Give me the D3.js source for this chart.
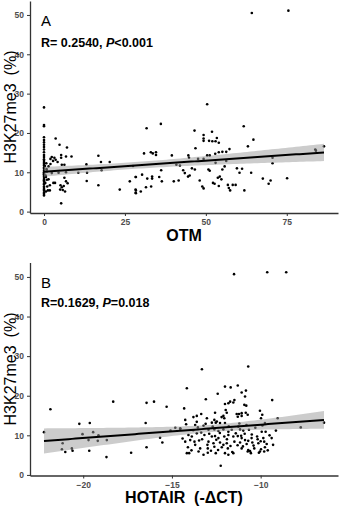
<!DOCTYPE html>
<html>
<head>
<meta charset="utf-8">
<script src="https://cdn.jsdelivr.net/npm/d3@7"></script>
<style>
  body { margin: 0; background: #fff; }
  svg { display: block; font-family: Arial, 'Liberation Sans', sans-serif; }
</style>
</head>
<body>
<div id="chart"></div>
<script>
const WIDTH = 339
const HEIGHT = 508

// OTM score vs H3K27me3 (%) -- [otm, h3k27me3]
const otmPoints = [
  [0, 26.5], [0, 22.0], [0, 21.7], [0, 18.9], [0, 18.2], [0, 17.6], [0, 17.0], [0, 16.4], [0, 15.8], [0, 15.1],
  [0, 14.4], [0, 13.9], [0, 13.3], [0, 12.9], [0, 12.4], [0, 12.1], [0, 11.7], [0, 11.2], [0, 10.9], [0, 10.4],
  [0, 10.0], [0, 9.7], [0, 9.5], [0, 9.1], [0, 8.8], [0, 8.3], [0, 8.0], [0, 7.6], [0, 7.1], [0, 6.9],
  [0, 6.4], [0, 6.0], [0, 5.6], [0, 5.3], [0, 4.8], [0, 4.5], [0, 4.1],
  [0.5, 9.2], [0.8, 10.8], [0.4, 7.3], [0.7, 12.3], [1.0, 6.4], [0.6, 5.1], [0.3, 11.6], [0.9, 8.1],
  [3.6, 18.6], [4.8, 17.0], [7.1, 16.3], [2.4, 13.9], [3.2, 13.7], [2.0, 13.4], [3.6, 13.2], [2.8, 12.9],
  [5.3, 14.4], [5.3, 13.7], [6.8, 14.0], [8.5, 14.0], [4.2, 12.6], [5.5, 11.9], [6.3, 11.9], [1.4, 11.5],
  [2.0, 12.1], [16.8, 14.2], [13.1, 12.0], [17.6, 12.6], [20.3, 12.6], [0.9, 10.2], [2.4, 9.8], [4.5, 9.9],
  [6.8, 10.0], [10.6, 9.9], [13.3, 9.9], [17.8, 10.5], [0.6, 8.8], [1.4, 8.2], [2.9, 7.3], [3.4, 7.3],
  [6.3, 8.6], [6.8, 7.7], [7.3, 7.2], [1.8, 6.7], [5.1, 6.7], [5.5, 6.2], [6.1, 6.5], [5.0, 5.6],
  [5.8, 5.5], [6.5, 5.1], [1.2, 5.4], [1.8, 5.4], [13.2, 7.8], [16.8, 6.7], [5.3, 2.1], [23.4, 5.6],
  [26.5, 7.7], [28.3, 8.8], [28.3, 5.6], [28.3, 4.8], [27.5, 11.6],
  [50.4, 27.3], [31.7, 21.2], [36.1, 22.3], [46.5, 20.6], [51.9, 20.3], [61.7, 21.7], [49.3, 19.5], [49.3, 18.6],
  [49.3, 18.0], [51.0, 18.0], [52.0, 17.9], [53.0, 17.9], [53.4, 18.7], [54.0, 17.5], [64.7, 18.3], [63.0, 16.6],
  [46.8, 16.1], [30.9, 14.8], [33.0, 15.1], [33.6, 14.8], [34.6, 15.1], [34.6, 14.4], [39.5, 14.3], [44.6, 14.3],
  [44.8, 13.7], [50.4, 14.3], [51.2, 14.3], [52.9, 14.7], [54.0, 15.1], [55.1, 15.2], [56.3, 15.2], [57.3, 15.9],
  [47.6, 13.4], [49.3, 13.4], [83.8, 15.8], [86.5, 16.6], [84.0, 15.5], [70.6, 13.7], [70.6, 12.3], [40.9, 11.9],
  [42.0, 11.7], [53.0, 12.4], [56.3, 12.9], [55.8, 11.5], [36.2, 10.5], [43.0, 10.5], [43.5, 9.8], [45.7, 11.0],
  [46.6, 10.7], [50.8, 10.7], [51.2, 10.4], [55.1, 10.7], [59.6, 11.0], [61.2, 10.9], [60.4, 9.9], [64.0, 9.9],
  [28.4, 8.8], [30.3, 9.4], [31.9, 8.4], [33.4, 8.9], [33.4, 8.4], [35.6, 8.8], [36.4, 7.7], [40.1, 7.7],
  [41.6, 7.9], [44.5, 8.9], [45.0, 9.2], [48.1, 7.9], [53.7, 8.6], [54.8, 8.2], [54.3, 8.9], [67.6, 8.4],
  [70.0, 7.9], [69.4, 7.1], [75.1, 8.5], [28.4, 5.4], [28.4, 4.7], [29.9, 5.1], [31.5, 6.2], [33.1, 6.4],
  [48.9, 6.4], [49.3, 5.9], [52.2, 7.3], [52.7, 7.1], [54.0, 6.5], [56.8, 6.8], [57.1, 6.0], [57.5, 5.4],
  [58.3, 6.8], [59.2, 6.8], [61.9, 5.4], [64.2, 50.5], [75.5, 51.1]
]

// HOTAIR (-dCT) vs H3K27me3 (%) -- [hotair, h3k27me3]
const hotairPoints = [
  [-22.21, 10.8], [-21.85, 16.6], [-18.31, 18.5], [-16.43, 18.2], [-16.01, 18.5], [-15.30, 17.2], [-20.22, 12.9],
  [-19.63, 13.1], [-16.48, 13.1], [-20.04, 10.3], [-19.44, 10.8], [-19.14, 10.0], [-19.18, 8.6], [-18.67, 8.8],
  [-19.70, 8.8], [-21.16, 8.0], [-21.20, 6.5], [-20.64, 6.7], [-21.01, 5.8], [-20.60, 6.1], [-19.66, 6.1],
  [-18.69, 4.5], [-17.30, 5.6], [-16.43, 7.0], [-15.67, 9.4], [-15.54, 8.2], [-15.08, 11.2],
  [-14.16, 21.9], [-12.01, 22.3], [-11.69, 22.1], [-11.29, 22.6], [-11.07, 20.8], [-10.83, 21.3], [-12.42, 20.5],
  [-10.88, 19.8], [-13.09, 19.1], [-11.48, 18.9], [-11.72, 18.5], [-11.82, 18.1], [-12.01, 17.9], [-11.54, 18.3],
  [-9.35, 18.9], [-10.92, 17.7], [-10.81, 17.5], [-14.31, 16.8], [-12.57, 15.7], [-11.97, 16.4], [-11.91, 15.7],
  [-11.35, 15.4], [-11.22, 15.4], [-11.07, 15.6], [-10.84, 15.7], [-10.73, 15.2], [-11.29, 14.7], [-11.07, 14.9],
  [-10.04, 16.2], [-9.91, 15.2], [-12.10, 14.9], [-12.05, 14.3], [-13.79, 14.6], [-13.60, 14.9], [-13.35, 15.4],
  [-13.03, 14.3], [-14.25, 13.9], [-12.75, 13.2], [-12.53, 13.2], [-12.29, 13.1], [-12.01, 13.1], [-9.98, 14.3],
  [-9.76, 13.1], [-9.04, 14.3], [-6.43, 13.2], [-7.74, 12.0], [-14.53, 11.8], [-13.69, 12.6], [-13.54, 12.0],
  [-13.22, 12.4], [-12.94, 11.4], [-12.61, 11.5], [-12.38, 11.1], [-12.10, 11.5], [-11.82, 10.9], [-11.63, 11.4],
  [-11.26, 12.2], [-11.16, 11.5], [-10.98, 11.2], [-10.66, 11.4], [-9.94, 10.9], [-9.72, 10.9], [-9.14, 11.2],
  [-14.07, 10.1], [-13.88, 9.7], [-13.60, 10.5], [-13.35, 10.7], [-13.17, 10.1], [-12.75, 9.7], [-12.57, 9.8],
  [-12.38, 9.3], [-12.05, 9.7], [-11.82, 10.1], [-11.54, 9.7], [-11.29, 9.8], [-11.07, 9.3], [-10.88, 8.8],
  [-10.51, 9.3], [-10.17, 9.0], [-9.85, 9.3], [-14.25, 8.4], [-13.97, 8.8], [-13.73, 8.4], [-13.47, 8.7],
  [-12.94, 8.4], [-12.66, 8.0], [-12.29, 8.2], [-11.91, 8.0], [-11.48, 8.4], [-11.16, 8.2], [-10.79, 7.8],
  [-10.47, 8.2], [-10.13, 8.0], [-9.66, 7.8], [-9.38, 9.3], [-14.10, 7.0], [-13.69, 7.6], [-13.41, 6.7],
  [-12.98, 6.7], [-12.61, 7.1], [-12.19, 7.0], [-11.85, 6.7], [-11.07, 6.7], [-10.70, 6.3], [-10.36, 6.7],
  [-9.98, 6.5], [-9.76, 7.0], [-14.16, 5.5], [-14.03, 5.5], [-13.22, 5.1], [-12.98, 5.6], [-12.53, 5.5],
  [-12.01, 5.5], [-11.82, 5.1], [-11.54, 5.5], [-10.73, 5.9], [-10.55, 5.5], [-10.04, 5.9], [-9.80, 5.9],
  [-12.25, 2.3], [-14.81, 11.9], [-14.53, 11.6], [-12.61, 13.9], [-12.47, 13.5],
  [-14.4, 9.2], [-14.2, 12.8], [-13.9, 6.2], [-13.8, 11.3], [-13.6, 13.4], [-13.5, 5.9], [-13.3, 9.0],
  [-13.1, 12.9], [-13.0, 7.6], [-12.9, 10.4], [-12.8, 6.1], [-12.7, 12.2], [-12.5, 8.9], [-12.4, 6.3],
  [-12.3, 10.6], [-12.2, 14.6], [-12.1, 7.6], [-11.9, 9.0], [-11.8, 12.3], [-11.7, 7.3], [-11.6, 5.8],
  [-11.4, 10.5], [-11.3, 7.5], [-11.2, 13.0], [-11.1, 9.9], [-11.0, 7.2], [-10.9, 10.4], [-10.8, 12.6],
  [-10.7, 8.6], [-10.6, 6.0], [-10.5, 10.2], [-10.4, 7.4], [-10.3, 11.9], [-10.2, 9.7], [-10.1, 5.6],
  [-10.0, 8.5], [-9.9, 12.5], [-9.8, 8.4], [-9.6, 6.2], [-9.5, 10.0], [-9.3, 7.6],
  [-11.50, 50.7], [-9.63, 51.2], [-8.56, 51.2], [-13.31, 26.7], [-10.70, 27.4]
]

const yTicks = [0, 10, 20, 30, 40, 50]
const otmTicks = [0, 25, 50, 75]
const hotairTicks = [-20, -15, -10]

const svg = d3.select('#chart')
  .append('svg')
  .attr('width', WIDTH)
  .attr('height', HEIGHT)

// least squares fit with a 95% confidence band
const fitLine = pts => {
  const n = pts.length
  const mx = d3.mean(pts, d => d[0])
  const my = d3.mean(pts, d => d[1])
  const sxx = d3.sum(pts, d => (d[0] - mx) ** 2)
  const sxy = d3.sum(pts, d => (d[0] - mx) * (d[1] - my))
  const b = sxy / sxx
  const a = my - b * mx
  const s = Math.sqrt(d3.sum(pts, d => (d[1] - a - b * d[0]) ** 2) / (n - 2))
  const t = 1.97
  const [x0, x1] = d3.extent(pts, d => d[0])
  return d3.range(81).map(i => {
    const x = x0 + (x1 - x0) * i / 80
    const yhat = a + b * x
    const se = s * Math.sqrt(1 / n + (x - mx) ** 2 / sxx)
    return { x, y: yhat, lo: yhat - t * se, hi: yhat + t * se }
  })
}

const expand = ext => {
  const r = ext[1] - ext[0]
  return [ext[0] - r * 0.05, ext[1] + r * 0.05]
}

const drawPanel = ({ pts, top, bottom, xTicks, xTitle, titleY, tag, tagY, stat, statY }) => {
  const left = 30
  const right = 338
  const g = svg.append('g')

  const xScale = d3.scaleLinear()
    .domain(expand(d3.extent(pts, d => d[0])))
    .range([left, right])
  const yScale = d3.scaleLinear()
    .domain(expand(d3.extent(pts, d => d[1])))
    .range([bottom, top])

  g.selectAll('circle')
    .data(pts)
    .join('circle')
    .attr('cx', d => xScale(d[0]))
    .attr('cy', d => yScale(d[1]))
    .attr('r', 1.3)
    .attr('fill', '#000')

  const fit = fitLine(pts)
  g.append('path')
    .datum(fit)
    .attr('fill', '#999')
    .attr('fill-opacity', 0.5)
    .attr('d', d3.area().x(d => xScale(d.x)).y0(d => yScale(d.lo)).y1(d => yScale(d.hi)))
  g.append('path')
    .datum(fit)
    .attr('fill', 'none')
    .attr('stroke', '#000')
    .attr('stroke-width', 2)
    .attr('d', d3.line().x(d => xScale(d.x)).y(d => yScale(d.y)))

  const styleAxis = sel => {
    sel.select('.domain').attr('stroke', '#333').attr('stroke-width', 1.3)
    sel.selectAll('.tick line').attr('stroke', '#333')
    sel.selectAll('.tick text')
      .attr('fill', '#4d4d4d')
      .style('font-size', '8.5px')
      .style('font-weight', 'bold')
  }

  g.append('g')
    .attr('transform', `translate(0, ${bottom})`)
    .call(d3.axisBottom(xScale).tickValues(xTicks).tickSize(3).tickSizeOuter(0).tickPadding(3))
    .call(styleAxis)
  g.append('g')
    .attr('transform', `translate(${left}, 0)`)
    .call(d3.axisLeft(yScale).tickValues(yTicks).tickSize(3).tickSizeOuter(0).tickPadding(3))
    .call(styleAxis)

  const yTitle = g.append('text')
    .attr('transform', `translate(16, ${(top + bottom) / 2}) rotate(-90)`)
    .attr('text-anchor', 'middle')
    .style('font-size', '16px')
  yTitle.append('tspan').text('H3K27me3')
  yTitle.append('tspan').attr('dx', 8).text('(%)')

  g.append('text')
    .attr('x', (left + right) / 2)
    .attr('y', titleY)
    .attr('text-anchor', 'middle')
    .style('font-size', '16px')
    .style('font-weight', 'bold')
    .style('white-space', 'pre')
    .text(xTitle)

  g.append('text')
    .attr('x', 41)
    .attr('y', tagY)
    .style('font-size', '15px')
    .text(tag)

  const st = g.append('text')
    .attr('x', 41)
    .attr('y', statY)
    .style('font-size', '12.5px')
    .style('font-weight', 'bold')
  st.append('tspan').text(stat[0])
  st.append('tspan').style('font-style', 'italic').text('P')
  st.append('tspan').text(stat[1])
}

drawPanel({
  pts: otmPoints, top: 1, bottom: 213, xTicks: otmTicks, xTitle: 'OTM', titleY: 241,
  tag: 'A', tagY: 26, stat: ['R= 0.2540, ', '<0.001'], statY: 46.5
})

drawPanel({
  pts: hotairPoints, top: 262.5, bottom: 475.5, xTicks: hotairTicks, xTitle: 'HOTAIR  (-ΔCT)', titleY: 503,
  tag: 'B', tagY: 288, stat: ['R=0.1629, ', '=0.018'], statY: 307
})
</script>
</body>
</html>
